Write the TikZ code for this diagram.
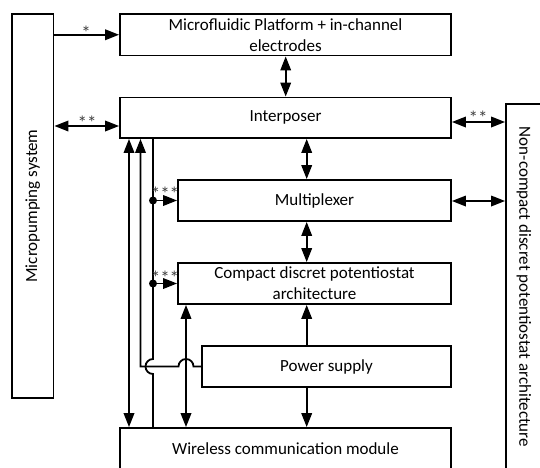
\documentclass[tikz,border=0pt]{standalone}
\usepackage{fontspec}
\setmainfont{Carlito}
\usetikzlibrary{arrows.meta,calc}
\begin{document}
\begin{tikzpicture}[x=1pt,y=1pt,
  blk/.style={draw,line width=1.8pt,inner sep=0pt,align=center,
    font=\fontsize{17}{21}\selectfont},
  lnk/.style={line width=1.8pt},
  tip/.style={-{Triangle[length=14pt,width=10.5pt]}},
  dtip/.style={{Triangle[length=14pt,width=10.5pt]}-{Triangle[length=14pt,width=10.5pt]}},
  starlbl/.style={font=\fontsize{19}{19}\selectfont,text=black!75,inner sep=0pt,anchor=base}]
\useasboundingbox (0,0) rectangle (540,-467);
\clip (0,0) rectangle (540,-467);

% blocks
\node[blk,minimum width=41.5,minimum height=384] (pump) at (32.75,-206) {\rotatebox{90}{Micropumping system}};
\node[blk,minimum width=331,minimum height=41.5] (micro) at (285.5,-34.75) {Microfluidic Platform + in-channel\\electrodes};
\node[blk,minimum width=331,minimum height=40.5] (inter) at (285.5,-117.75) {Interposer};
\node[blk,minimum width=273,minimum height=41] (mux) at (314.5,-200.5) {Multiplexer};
\node[blk,minimum width=273,minimum height=41] (cpot) at (314.5,-283.5) {Compact discret potentiostat\\architecture};
\node[blk,minimum width=249,minimum height=41] (power) at (326.5,-366.5) {Power supply};
\node[blk,minimum width=331,minimum height=42] (wless) at (285.5,-449) {Wireless communication module};
\node[blk,minimum width=36,minimum height=366] (ncpot) at (524,-287) {\rotatebox{-90}{Non-compact discret potentiostat architecture}};

% lane positions
\coordinate (xa) at (129,0);
\coordinate (xb) at (140.5,0);
\coordinate (xbus) at (153,0);
\coordinate (xd) at (186,0);
\coordinate (xm) at (285.7,0);
\coordinate (xc) at (306.7,0);
\coordinate (yl) at (0,-126);
\coordinate (yr1) at (0,-122);
\coordinate (yr2) at (0,-201);

% micropumping links
\draw[lnk,tip] (pump.east |- micro.west) -- (micro.west);
\node[starlbl] (s1) at (86,-39) {*};
\draw[lnk,dtip] (pump.east |- yl) -- (inter.west |- yl);
\node[starlbl] (s2) at (87,-129) {**};

% non-compact potentiostat links
\draw[lnk,dtip] (inter.east |- yr1) -- (ncpot.west |- yr1);
\node[starlbl] (s3) at (478,-124) {**};
\draw[lnk,dtip] (mux.east |- yr2) -- (ncpot.west |- yr2);

% central stack
\draw[lnk,dtip] (xm |- micro.south) -- (xm |- inter.north);
\draw[lnk,dtip] (xc |- inter.south) -- (xc |- mux.north);
\draw[lnk,dtip] (xc |- mux.south) -- (xc |- cpot.north);
\draw[lnk,tip] (xc |- power.north) -- (xc |- cpot.south);
\draw[lnk,tip] (xc |- power.south) -- (xc |- wless.north);

% left lanes
\draw[lnk,dtip] (xa |- inter.south) -- (xa |- wless.north);
\draw[lnk,dtip] (xd |- cpot.south) -- (xd |- wless.north);
\draw[lnk,tip] (power.west) -- ($(xd |- power.west)+(7.5,0)$)
  arc[start angle=0,end angle=180,radius=7.5] -- (xb |- power.west) -- (xb |- inter.south);
\draw[lnk] (xbus |- inter.south) -- ($(xbus |- power.west)+(0,7.5)$)
  arc[start angle=90,end angle=270,radius=7.5] -- (xbus |- wless.north);

% bus taps
\coordinate (t1) at (xbus |- mux.west);
\coordinate (t2) at (xbus |- cpot.west);
\fill (t1) circle (4);
\fill (t2) circle (4);
\draw[lnk,tip] (t1) -- (mux.west);
\draw[lnk,tip] (t2) -- (cpot.west);
\node[starlbl] (s4) at (165,-200) {***};
\node[starlbl] (s5) at (165,-284) {***};
\end{tikzpicture}
\end{document}
